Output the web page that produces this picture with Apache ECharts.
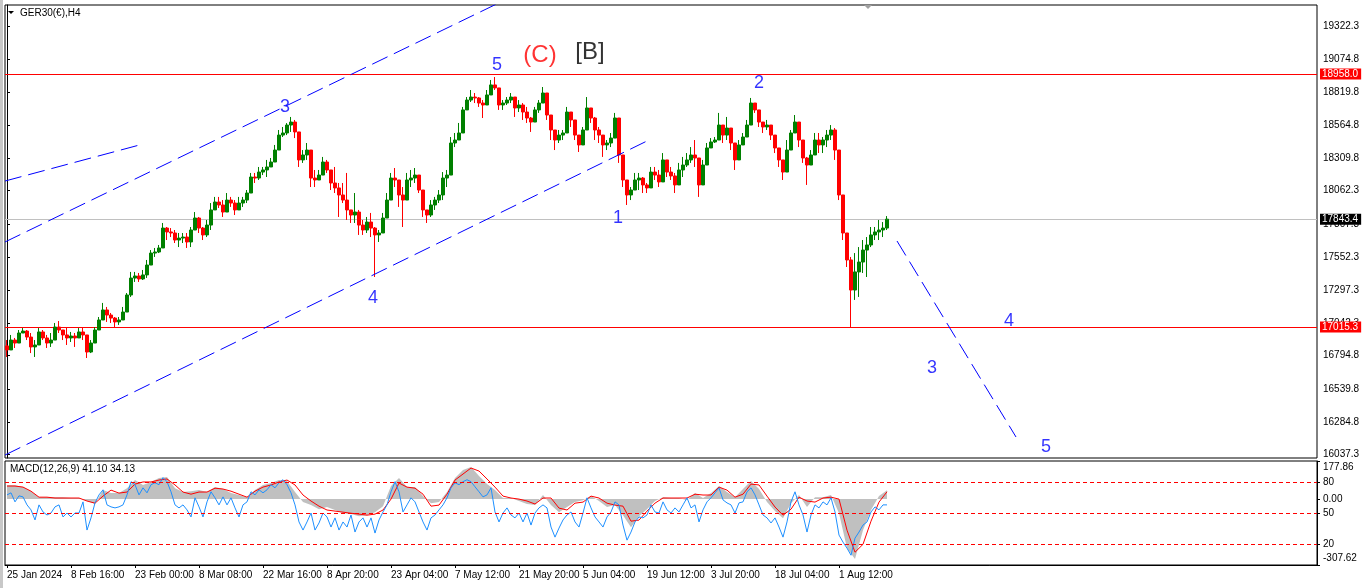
<!DOCTYPE html>
<html><head><meta charset="utf-8">
<script src="https://cdn.jsdelivr.net/npm/echarts@6/dist/echarts.min.js"></script>
<style>html,body{margin:0;padding:0;background:#fff;}#c{width:1366px;height:588px;}</style>
</head><body><div id="c"></div>
<script>
// ---------------- DATA ----------------
const symbolName = 'GER30(€),H4';
const dateTicks = ['25 Jan 2024','8 Feb 16:00','23 Feb 00:00','8 Mar 08:00','22 Mar 16:00','8 Apr 20:00','23 Apr 04:00','7 May 12:00','21 May 20:00','5 Jun 04:00','19 Jun 12:00','3 Jul 20:00','18 Jul 04:00','1 Aug 12:00'];
const slotsPerTick = 16;
const totalSlots = 328;
const priceTicks = [19322.3,19074.8,18819.8,18564.8,18309.8,18062.3,17807.3,17552.3,17297.3,17042.3,16794.8,16539.8,16284.8,16037.3];
const priceMin = 16009.2, priceMax = 19487.8;
const resistanceLevel = 18958.0;
const supportLevel = 17015.3;
const lastPrice = 17843.4;
const firstOpen = 16870;
const closes = [
16839,16915,16892,16969,16984,16938,16862,16877,16977,16931,
16892,16915,17015,16992,16954,16931,16946,16931,16977,16954,
16823,16892,16992,17069,17146,17107,17084,17054,17069,17130,
17261,17391,17407,17384,17415,17491,17583,17591,17622,17775,
17745,17737,17683,17698,17706,17668,17760,17852,17775,17722,
17798,17914,17975,17952,17898,17990,17967,17914,17967,17990,
18044,18167,18159,18205,18221,18244,18282,18374,18489,18505,
18566,18589,18513,18298,18336,18374,18159,18144,18182,18282,
18221,18121,18083,18029,17990,17914,17875,17898,17798,17760,
17821,17775,17722,17737,17852,17990,18159,18144,18029,17990,
18144,18159,18182,18067,17914,17875,17952,17990,18029,18159,
18182,18428,18451,18505,18682,18758,18781,18774,18735,18720,
18797,18874,18851,18720,18735,18758,18781,18697,18720,18666,
18620,18589,18682,18735,18812,18643,18528,18451,18489,18505,
18666,18605,18489,18413,18528,18697,18620,18528,18489,18413,
18428,18466,18620,18336,18144,18029,18067,18144,18159,18106,
18083,18205,18182,18129,18298,18205,18175,18106,18221,18259,
18298,18336,18313,18106,18259,18390,18436,18451,18566,18489,
18543,18428,18298,18413,18474,18566,18735,18682,18589,18551,
18566,18489,18390,18298,18205,18374,18505,18589,18451,18313,
18259,18336,18451,18413,18451,18489,18528,18374,18029,17737,
17530,17299,17438,17514,17606,17645,17722,17745,17760,17775,
17843.4];
const highs = [
16915,16954,16931,16992,17007,16992,16969,16915,17007,16992,
16954,16969,17046,17061,16992,17015,16977,16969,17007,17015,
16938,16915,17015,17092,17200,17169,17123,17092,17092,17169,
17276,17438,17438,17430,17453,17530,17606,17622,17645,17814,
17783,17775,17760,17737,17737,17737,17783,17898,17860,17783,
17837,17967,18014,18014,17990,18044,18014,17990,18014,18014,
18067,18198,18198,18244,18244,18298,18313,18413,18528,18551,
18581,18628,18605,18505,18374,18428,18244,18221,18221,18321,
18298,18221,18244,18121,18121,18198,17914,18044,17914,17837,
17860,17891,17783,17760,17891,18044,18198,18236,18121,18090,
18198,18221,18236,18167,18067,17914,17990,18014,18067,18205,
18221,18474,18505,18582,18705,18781,18835,18812,18781,18758,
18835,18912,18935,18835,18758,18781,18812,18774,18758,18735,
18705,18628,18705,18758,18858,18705,18605,18528,18528,18528,
18705,18659,18582,18474,18551,18781,18682,18628,18551,18474,
18451,18505,18659,18582,18298,18121,18090,18198,18198,18167,
18121,18244,18244,18221,18351,18275,18244,18198,18275,18321,
18351,18397,18451,18275,18298,18428,18466,18474,18659,18528,
18628,18474,18351,18451,18505,18605,18774,18735,18628,18589,
18605,18543,18451,18351,18275,18451,18528,18643,18505,18397,
18321,18374,18505,18505,18474,18528,18566,18543,18244,17990,
17737,17553,17583,17629,17683,17706,17783,17783,17837,17821,
17867];
const lows = [
16785,16839,16854,16915,16969,16915,16815,16785,16892,16915,
16854,16862,16938,16969,16915,16877,16900,16862,16931,16915,
16777,16815,16915,16992,17069,17054,17046,17015,17031,17069,
17146,17246,17361,17361,17376,17392,17507,17553,17583,17706,
17683,17706,17660,17629,17660,17622,17629,17783,17737,17683,
17706,17760,17937,17929,17860,17914,17937,17875,17914,17937,
17967,18067,18121,18144,18182,18167,18244,18298,18397,18474,
18489,18513,18466,18244,18275,18298,18090,18090,18144,18221,
18198,18067,18044,17860,17967,17837,17814,17814,17722,17722,
17737,17706,17399,17668,17737,17891,18044,18090,17937,17783,
18044,18090,18121,18044,17860,17814,17860,17914,17967,17990,
18090,18244,18397,18474,18505,18682,18743,18735,18705,18620,
18735,18812,18835,18682,18682,18720,18735,18628,18666,18605,
18582,18513,18628,18659,18758,18605,18451,18374,18428,18451,
18582,18551,18451,18359,18474,18605,18582,18451,18428,18321,
18374,18397,18582,18275,18090,17952,17990,18067,18067,18044,
18044,18121,18144,18090,18198,18167,18144,18044,18144,18167,
18244,18275,18244,18014,18167,18321,18397,18428,18451,18428,
18451,18374,18221,18298,18428,18505,18628,18659,18551,18505,
18528,18451,18351,18244,18144,18275,18451,18528,18397,18275,
18106,18275,18397,18351,18351,18397,18451,18298,17990,17683,
17476,17015,17223,17246,17430,17399,17629,17683,17683,17706,
17760];
// MACD(12,26,9): one value every 2 slots
const macdHist = [
65,65,56,37,9,9,9,9,5,5,
-9,-23,42,28,28,51,89,66,80,98,
103,51,33,37,42,33,56,47,28,19,
9,42,66,75,89,84,33,-14,-28,-47,
-37,-51,-66,-70,-80,-75,-61,-33,61,98,
56,56,14,-19,-14,33,98,136,150,108,
70,42,5,5,-9,-23,-28,19,-28,-61,
-37,-14,-5,14,-9,-37,-28,-75,-131,-80,
-47,-9,9,5,5,-5,28,5,28,61,
33,9,47,84,47,-14,-56,-89,-19,19,
-37,9,9,19,-66,-230,-280,-145,-51,14,
41.10];
const macdSignal = [
61,61,56,37,9,9,5,5,5,5,
-9,-19,14,42,28,33,70,80,80,89,
94,66,33,23,33,33,51,47,37,23,
9,37,56,66,80,89,66,19,-9,-33,
-51,-56,-61,-66,-70,-75,-70,-51,0,75,
56,51,23,-33,-28,23,89,117,145,131,
94,56,14,5,0,-9,-23,5,5,-42,
-51,-19,-14,14,5,-19,-28,-33,-103,-98,
-56,-19,5,5,5,5,23,19,19,56,
42,9,23,70,66,14,-37,-75,-47,9,
-9,-14,5,9,0,-145,-248,-211,-103,-14,
34.13];
const macdStep = 2;
const macdMin = -307.62, macdMax = 177.86;
const macdTicks = [177.86, 0, -307.62];
// oscillator (0-100) one value per slot
const oscLine = [
67.4,69.4,60.7,66.5,65.5,57.8,53.0,43.3,57.8,51.0,
48.1,50.0,55.9,57.8,46.2,50.0,46.2,50.0,50.0,60.7,
33.6,45.3,59.7,67.4,72.3,57.8,55.9,54.9,55.9,57.8,
67.4,80.1,77.2,67.4,74.2,69.4,77.2,79.1,77.2,84.0,
80.1,70.4,57.8,54.9,57.8,53.0,46.2,64.6,55.9,46.2,
60.7,70.4,64.6,57.8,65.5,57.8,64.6,54.9,46.2,57.8,
60.7,70.4,67.4,72.3,69.4,72.3,77.2,74.2,79.1,82.0,
77.2,69.4,57.8,41.4,33.6,41.4,50.0,33.6,40.4,50.0,
46.2,36.5,45.3,33.6,41.4,36.5,48.1,31.7,41.4,45.3,
36.5,45.3,30.7,43.3,51.0,57.8,70.4,80.1,70.4,51.0,
57.8,64.6,60.7,51.0,41.4,33.6,45.3,48.1,53.0,57.8,
64.6,74.2,79.1,77.2,80.1,82.0,80.1,75.2,70.4,65.5,
67.4,74.2,51.0,41.4,50.0,54.9,48.1,45.3,50.0,41.4,
50.0,38.4,50.0,54.9,57.8,54.9,36.5,26.8,35.5,43.3,
48.1,51.0,41.4,36.5,50.0,64.6,54.9,46.2,41.4,36.5,
46.2,51.0,60.7,57.8,38.4,23.9,31.7,41.4,46.2,45.3,
48.1,57.8,51.0,50.0,60.7,53.0,50.0,54.9,51.0,57.8,
64.6,54.9,57.8,41.4,53.0,60.7,64.6,69.4,74.2,62.6,
59.7,57.8,50.0,59.7,60.7,70.4,74.2,67.4,57.8,48.1,
45.3,40.4,45.3,36.5,26.8,41.4,60.7,70.4,57.8,48.1,
31.7,48.1,57.8,54.9,60.7,57.8,64.6,51.0,28.8,22.0,
16.2,9.4,25.8,31.7,38.4,41.4,51.0,55.9,53.0,57.8,
57.8];
const oscLevels = [80, 50, 20];
// trend lines: [slot, price]
const channelUpper = [[-0.5,17668],[125,19534]];
const channelShort = [[-0.5,18136],[34,18420]];
const channelLower = [[-0.5,16032],[160,18443.5]];
const projection = [[222.5,17675.6],[252.25,16170.5]];
// wave labels: [slot, price, text]
const waveBlue = [[69.5,18705,'3'],[91.5,17238,'4'],[122.5,19027,'5'],[152.75,17852,'1'],[188,18889,'2'],[250.5,17061,'4'],[231.25,16700,'3'],[259.75,16094,'5']];
const waveRed = [[133.25,19104,'(C)']];
const waveBlack = [[145.75,19127,'[B]']];

// ---------------- CHART ----------------
const FONT = 'Liberation Sans';
const slotNames = Array.from({length: totalSlots}, (_, i) => String(i));
const candles = closes.map((c, i) => {
  const o = i === 0 ? firstOpen : closes[i - 1];
  return [o, c, Math.min(lows[i], o, c), Math.max(highs[i], o, c)];
});
const isTick = (i) => i % slotsPerTick === 0 && (i / slotsPerTick) < dateTicks.length;
const chart = echarts.init(document.getElementById('c'), null, {renderer: 'canvas'});
const trend = (d) => ({
  type: 'line', xAxisIndex: 1, yAxisIndex: 0, data: d, symbol: 'none', silent: true,
  lineStyle: {color: '#0000ff', width: 1, type: [17, 7]}, z: 3
});
const labelSeries = (d, color, size) => ({
  type: 'scatter', xAxisIndex: 1, yAxisIndex: 0, data: d, symbolSize: 1,
  itemStyle: {color: 'rgba(0,0,0,0)'}, silent: true, z: 5,
  label: {show: true, position: 'inside', formatter: p => p.data[2], color: color,
    fontSize: size, fontFamily: FONT}
});
const priceTag = (v, bg, lineColor) => ({
  yAxis: v, lineStyle: {color: lineColor, width: 1, type: 'solid'},
  label: {show: true, position: 'end', formatter: v.toFixed(1), backgroundColor: bg,
    color: '#fff', fontSize: 10, fontFamily: FONT, padding: [1, 3, 0, 2], distance: 3}
});
const macdLabel = (v) => {
  const t = v.toFixed(2);
  if (v === macdMax) return '{hi|' + t + '}';
  if (v === macdMin) return '{lo|' + t + '}';
  return t;
};
const option = {
  animation: false,
  backgroundColor: '#fff',
  textStyle: {fontFamily: FONT},
  grid: [
    {left: 5, right: 49, top: 5, height: 453, show: true, borderColor: '#000', borderWidth: 1, backgroundColor: '#fff'},
    {left: 5, right: 49, top: 461, height: 104, show: true, borderColor: '#000', borderWidth: 1, backgroundColor: '#fff'},
    {left: 5, right: 49, top: 461, height: 104, show: false}
  ],
  xAxis: [
    {type: 'category', gridIndex: 0, data: slotNames, position: 'bottom', axisLine: {show: false, onZero: false}, axisTick: {show: false}, axisLabel: {show: false}, splitLine: {show: false}},
    {type: 'value', gridIndex: 0, min: -0.5, max: totalSlots - 0.5, position: 'top', show: false},
    {type: 'category', gridIndex: 1, data: slotNames, position: 'bottom',
      axisLine: {show: true, onZero: false, lineStyle: {color: '#000'}},
      axisTick: {show: true, interval: (i) => isTick(i), alignWithLabel: true, length: 3, lineStyle: {color: '#000'}},
      axisLabel: {show: true, interval: 0, align: 'left', margin: 5, fontSize: 10, color: '#000', fontFamily: FONT,
        formatter: (v, i) => isTick(i) ? dateTicks[i / slotsPerTick] : ''},
      splitLine: {show: false}},
    {type: 'value', gridIndex: 1, min: -0.5, max: totalSlots - 0.5, position: 'top', show: false},
    {type: 'value', gridIndex: 2, min: -0.5, max: totalSlots - 0.5, position: 'bottom', show: false}
  ],
  yAxis: [
    {type: 'value', gridIndex: 0, position: 'right', min: priceMin, max: priceMax,
      axisLine: {show: true, lineStyle: {color: '#000'}},
      axisTick: {show: true, customValues: priceTicks, length: 3, lineStyle: {color: '#000'}},
      axisLabel: {show: true, customValues: priceTicks, formatter: v => v.toFixed(1), color: '#000', fontSize: 10, margin: 6, fontFamily: FONT},
      splitLine: {show: false}},
    {type: 'value', gridIndex: 1, position: 'right', min: macdMin, max: macdMax,
      axisLine: {show: true, onZero: false, lineStyle: {color: '#000'}},
      axisTick: {show: true, customValues: macdTicks, length: 3, lineStyle: {color: '#000'}},
      axisLabel: {show: true, customValues: macdTicks, formatter: macdLabel, color: '#000', fontSize: 10, margin: 6, fontFamily: FONT,
        rich: {
          hi: {fontSize: 10, color: '#000', fontFamily: FONT, padding: [12, 0, 0, 0]},
          lo: {fontSize: 10, color: '#000', fontFamily: FONT, padding: [0, 0, 14, 0]}
        }},
      splitLine: {show: false}},
    {type: 'value', gridIndex: 2, position: 'right', min: 0, max: 100,
      axisLine: {show: false, onZero: false},
      axisTick: {show: true, customValues: oscLevels, length: 3, lineStyle: {color: '#000'}},
      axisLabel: {show: true, customValues: oscLevels, formatter: v => String(v), color: '#000', fontSize: 10, margin: 6, fontFamily: FONT},
      splitLine: {show: false}}
  ],
  series: [
    {type: 'candlestick', xAxisIndex: 0, yAxisIndex: 0, data: candles, barWidth: 3, silent: true, z: 2,
      itemStyle: {color: '#008000', color0: '#ff0000', borderColor: '#008000', borderColor0: '#ff0000', borderWidth: 1},
      markLine: {symbol: 'none', silent: true, z: 1, animation: false,
        data: [priceTag(resistanceLevel, '#ff0000', '#ff0000'), priceTag(supportLevel, '#ff0000', '#ff0000'), priceTag(lastPrice, '#000000', '#c0c0c0')]}},
    trend(channelUpper), trend(channelShort), trend(channelLower), trend(projection),
    labelSeries(waveBlue, '#0000ff', 18),
    labelSeries(waveRed, '#ff0000', 24),
    labelSeries(waveBlack, '#000000', 24),
    {type: 'line', xAxisIndex: 3, yAxisIndex: 1, data: macdHist.map((v, k) => [k * macdStep, v]), symbol: 'none', silent: true,
      lineStyle: {width: 0, color: '#c0c0c0'}, areaStyle: {color: '#c0c0c0', opacity: 1, origin: 'auto'}, z: 2},
    {type: 'line', xAxisIndex: 3, yAxisIndex: 1, data: macdSignal.map((v, k) => [k * macdStep, v]), symbol: 'none', silent: true,
      lineStyle: {width: 1, color: '#ff0000'}, z: 3},
    {type: 'line', xAxisIndex: 4, yAxisIndex: 2, data: oscLine.map((v, i) => [i, v]), symbol: 'none', silent: true,
      lineStyle: {width: 1, color: '#1e90ff'}, z: 4,
      markLine: {symbol: 'none', silent: true, label: {show: false},
        lineStyle: {color: '#ff0000', width: 1, type: [4, 3]},
        data: oscLevels.map(v => ({yAxis: v}))}}
  ],
  graphic: [
    {type: 'rect', shape: {x: 0, y: 0, width: 3, height: 588}, style: {fill: '#c8c8c8'}, silent: true},
    {type: 'polygon', shape: {points: [[8, 11], [14, 11], [11, 14]]}, style: {fill: '#000'}, silent: true},
    {type: 'text', x: 20, y: 13, silent: true, style: {text: symbolName, font: '10px "Liberation Sans"', fill: '#000', textVerticalAlign: 'middle', verticalAlign: 'middle'}},
    {type: 'text', x: 10, y: 469, silent: true, z: 10, style: {text: 'MACD(12,26,9) ' + macdHist[macdHist.length - 1].toFixed(2) + ' ' + macdSignal[macdSignal.length - 1].toFixed(2), font: '10px "Liberation Sans"', fill: '#000', textVerticalAlign: 'middle', verticalAlign: 'middle'}},
    {type: 'polygon', shape: {points: [[864, 5], [872, 5], [868, 9]]}, style: {fill: '#a0a0a0'}, silent: true}
  ]
};
chart.setOption(option);
</script>
</body></html>
